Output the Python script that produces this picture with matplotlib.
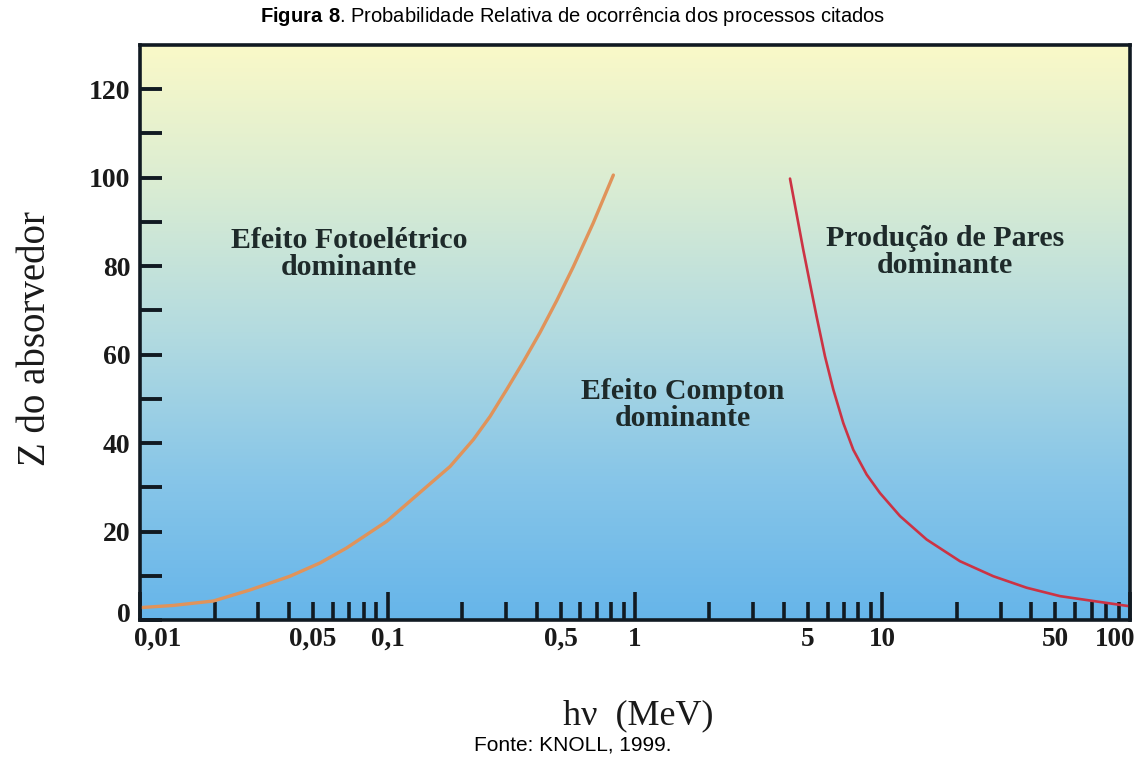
import numpy as np
import matplotlib
matplotlib.use("Agg")
import matplotlib.pyplot as plt
from matplotlib.colors import LinearSegmentedColormap
from matplotlib.ticker import FixedLocator, NullFormatter
import matplotlib.transforms as mtransforms

plt.rcParams["mathtext.fontset"] = "custom"
plt.rcParams["mathtext.bf"] = "Liberation Sans:bold"
plt.rcParams["mathtext.rm"] = "Liberation Sans"

# boundary photoelectric / Compton
photo_e = [0.01, 0.01364, 0.01978, 0.02783, 0.04036, 0.05337, 0.0684, 0.0992,
           0.1396, 0.1789, 0.2223, 0.2595, 0.303, 0.3539, 0.4132, 0.4826,
           0.5636, 0.6785, 0.8176]
photo_z = [2.8, 3.3, 4.3, 6.8, 9.9, 12.9, 16.3, 22.3,
           29.5, 34.7, 40.8, 46.0, 52.1, 58.4, 65.0, 72.2,
           79.9, 89.8, 100.6]

# boundary Compton / pair production
pair_e = [4.23, 4.786, 5.093, 5.418, 5.858, 6.329, 6.948, 7.62, 8.63, 9.77,
          11.77, 15.08, 20.56, 28.04, 38.23, 52.14, 71.1, 100]
pair_z = [99.8, 83.7, 76.1, 68.6, 59.6, 52.1, 44.5, 38.5, 32.9, 28.7,
          23.5, 18.2, 13.3, 9.9, 7.3, 5.4, 4.3, 3.1]

xtick_vals = [0.01, 0.05, 0.1, 0.5, 1, 5, 10, 50, 100]
xtick_labels = ["0,01", "0,05", "0,1", "0,5", "1", "5", "10", "50", "100"]
ytick_vals = [0, 20, 40, 60, 80, 100, 120]

serif = "Liberation Serif"
sans = "Liberation Sans"
ink = "#1a1a1a"

fig = plt.figure(figsize=(11.46, 7.63), dpi=100)
ax = fig.add_axes([0.1222, 0.1874, 0.8638, 0.7536])

# background gradient
cmap = LinearSegmentedColormap.from_list(
    "bg", ["#66b5ea", "#88c6e8", "#b3dbe0", "#d9ecd3", "#faf9c8"])
grad = np.linspace(0, 1, 256).reshape(-1, 1)
ax.imshow(grad, aspect="auto", cmap=cmap, origin="lower",
          extent=[0, 1, 0, 1], transform=ax.transAxes, zorder=0)

ax.plot(photo_e, photo_z, color="#e0935a", lw=2.4, zorder=3,
        solid_capstyle="round")
ax.plot(pair_e, pair_z, color="#cc3344", lw=1.9, zorder=3,
        solid_capstyle="round")

ax.set_xscale("log")
ax.set_xlim(0.01, 100)
ax.set_ylim(0, 130)

# x ticks
ax.xaxis.set_major_locator(FixedLocator([0.01, 0.1, 1, 10, 100]))
ax.xaxis.set_major_formatter(NullFormatter())
minors = [m * 10.0 ** d for d in range(-2, 2) for m in range(2, 10)]
ax.xaxis.set_minor_locator(FixedLocator(minors))
ax.xaxis.set_minor_formatter(NullFormatter())
ax.tick_params(axis="x", which="major", direction="in", length=20, width=2.6,
               color="#111a22")
ax.tick_params(axis="x", which="minor", direction="in", length=13, width=2.6,
               color="#111a22")
for v, lab in zip(xtick_vals, xtick_labels):
    ha, dx = "center", 0
    if v == 0.01:
        ha, dx = "left", -4
    elif v == 100:
        ha, dx = "right", 4
    ax.annotate(lab, xy=(v, 0), xycoords=("data", "axes fraction"),
                xytext=(dx, -5), textcoords="offset points", ha=ha, va="top",
                fontsize=19.5, family=serif, fontweight="bold", color=ink)

# y ticks
ax.set_yticks(ytick_vals)
ax.set_yticks(range(10, 130, 20), minor=True)
ax.tick_params(axis="y", which="both", direction="in", length=16, width=2.8,
               color="#111a22", labelsize=20, pad=7)
for lab in ax.get_yticklabels():
    lab.set_fontfamily(serif)
    lab.set_fontweight("bold")
    lab.set_color(ink)
# "0" label sits a little above the axis line
zero_lab = ax.get_yticklabels()[0]
zero_lab.set_transform(zero_lab.get_transform() +
                       mtransforms.ScaledTranslation(0, 8 / 100, fig.dpi_scale_trans))

for sp in ax.spines.values():
    sp.set_linewidth(2.6)
    sp.set_color("#111a22")
    sp.set_zorder(5)

fig.text(0.031, 0.556, "Z do absorvedor", rotation=90, ha="center",
         va="center", fontsize=28, family=serif, color=ink)

# region labels
txt = dict(fontsize=21.5, family=serif, fontweight="bold", color="#1e2a2a",
           ha="center", va="center", linespacing=1.0, zorder=4)
ax.text(0.07, 82.7, "Efeito Fotoelétrico\ndominante", **txt)
ax.text(1.56, 48.6, "Efeito Compton\ndominante", **txt)
ax.text(17.9, 83.2, "Produção de Pares\ndominante", **txt)

# captions
fig.text(0.5, 0.978,
         r"$\mathbf{Figura\ 8}$. Probabilidade Relativa de ocorrência dos processos citados",
         ha="center", va="center", fontsize=14.5, family=sans)
fig.text(0.557, 0.062, "hν  (MeV)", ha="center", va="center", fontsize=26,
         family=serif, color=ink)
fig.text(0.5, 0.023, "Fonte: KNOLL, 1999.", ha="center", va="center",
         fontsize=15, family=sans)

fig.savefig("out.png", dpi=100)
